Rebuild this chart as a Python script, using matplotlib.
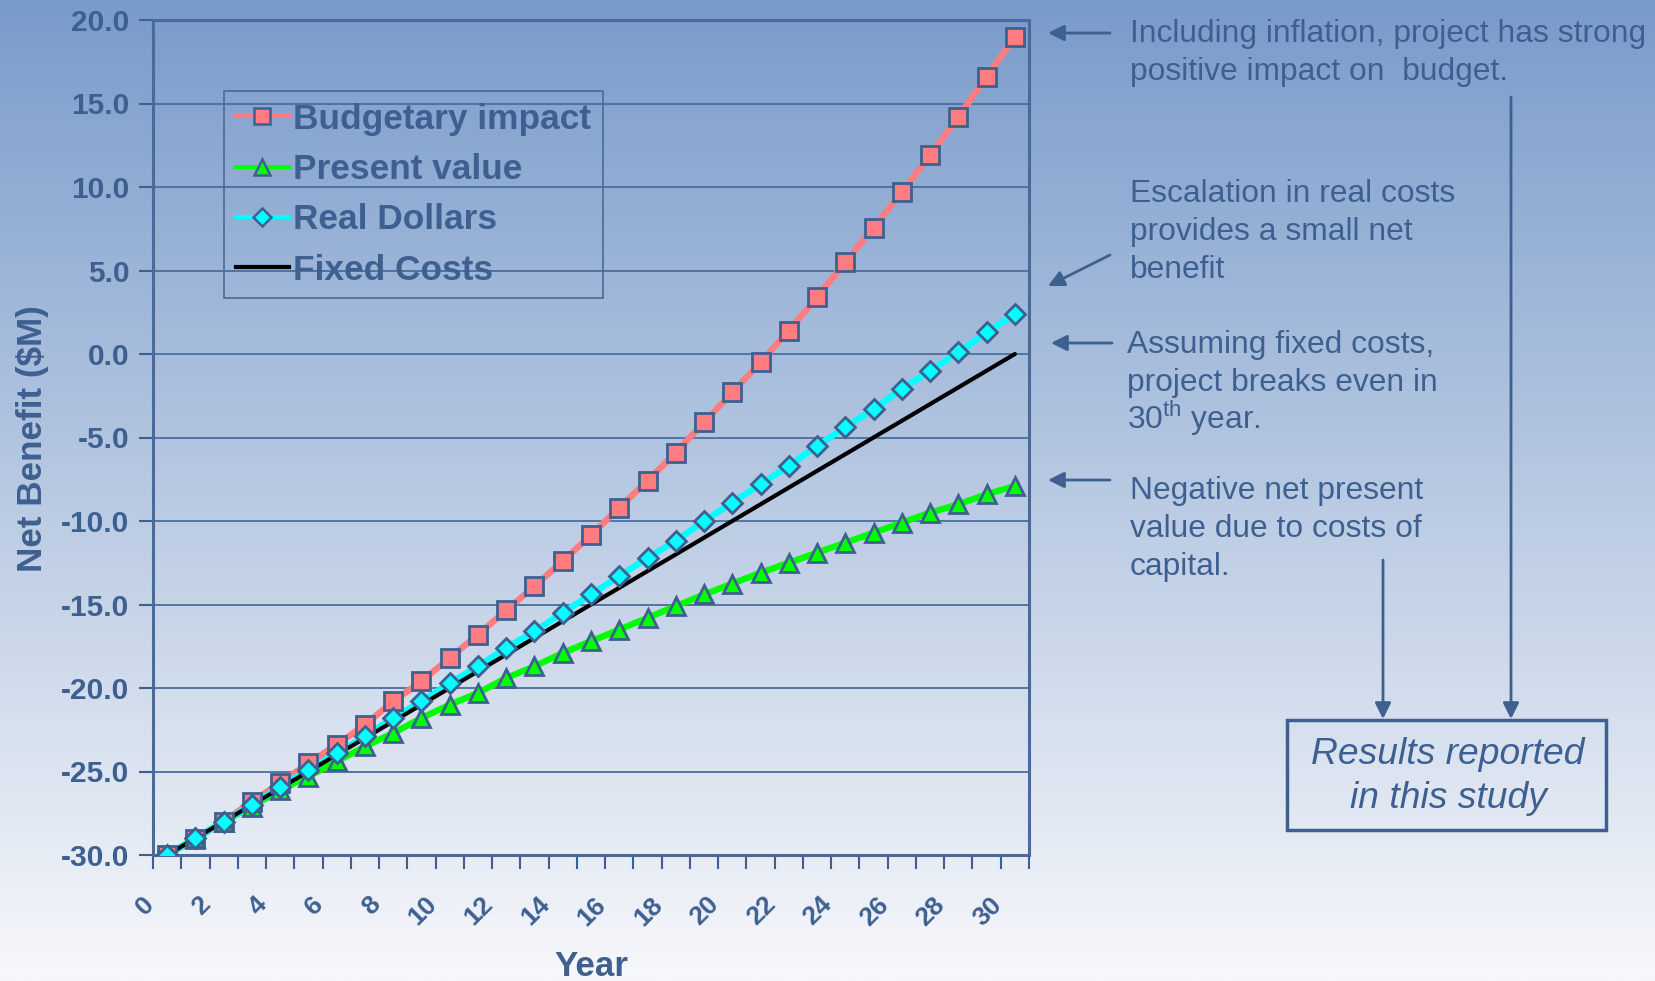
import matplotlib.pyplot as plt
import numpy as np
from matplotlib.lines import Line2D
from matplotlib.patches import Rectangle
from matplotlib.transforms import ScaledTranslation

# Net benefit ($M) by year for each costing scenario
years = list(range(31))
budgetary = [-30.0, -29.05, -28.0, -26.8, -25.7, -24.5, -23.4, -22.2, -20.8, -19.6,
             -18.2, -16.8, -15.35, -13.9, -12.4, -10.85, -9.2, -7.6, -5.9, -4.1,
             -2.3, -0.5, 1.4, 3.4, 5.5, 7.55, 9.7, 11.9, 14.2, 16.6, 19.0]
present_value = [-30.0, -29.0, -28.0, -27.1, -26.1, -25.3, -24.4, -23.5, -22.7, -21.8,
                 -21.0, -20.3, -19.4, -18.7, -17.9, -17.2, -16.5, -15.8, -15.1, -14.4,
                 -13.75, -13.1, -12.5, -11.9, -11.3, -10.7, -10.1, -9.5, -9.0, -8.4, -7.9]
real_dollars = [-30.0, -29.0, -28.0, -27.0, -25.9, -24.9, -23.9, -22.9, -21.8, -20.8,
                -19.7, -18.7, -17.6, -16.6, -15.5, -14.4, -13.3, -12.2, -11.2, -10.0,
                -8.9, -7.8, -6.7, -5.5, -4.4, -3.3, -2.1, -1.0, 0.1, 1.3, 2.4]
fixed_costs = [-30, -29, -28, -27, -26, -25, -24, -23, -22, -21, -20, -19, -18, -17, -16,
               -15, -14, -13, -12, -11, -10, -9, -8, -7, -6, -5, -4, -3, -2, -1, 0]
series_names = ["Budgetary impact", "Present value", "Real Dollars", "Fixed Costs"]

TEXT = "#3E6091"
RED, GREEN, CYAN = "#FF7C80", "#00FF00", "#00FFFF"
W, H = 1655, 981

plt.rcParams["font.family"] = ["Liberation Sans", "DejaVu Sans"]
plt.rcParams["mathtext.fontset"] = "custom"
plt.rcParams["mathtext.rm"] = "Liberation Sans"

fig = plt.figure(figsize=(W / 100, H / 100), dpi=100)

# vertical blue-to-white background
bg = fig.add_axes([0, 0, 1, 1], zorder=-10)
top = np.array([121, 155, 202]) / 255
bottom = np.array([247, 248, 251]) / 255
t = np.linspace(0, 1, 400)[:, None]
grad = top + (bottom - top) * t
bg.imshow(grad[:, None, :], aspect="auto", extent=[0, 1, 0, 1])
bg.axis("off")

ax = fig.add_axes([153 / W, 1 - 855 / H, 876 / W, 835 / H])
ax.set_facecolor("none")

LW = 4.6
ax.plot(years, budgetary, color=RED, lw=LW, zorder=2, solid_capstyle="round")
ax.plot(years, present_value, color=GREEN, lw=LW, zorder=2.1, solid_capstyle="round")
ax.plot(years, real_dollars, color=CYAN, lw=LW, zorder=2.2, solid_capstyle="round")
ax.plot(years, fixed_costs, color="black", lw=3, zorder=2.3, solid_capstyle="round")
ax.plot(years, budgetary, ls="none", marker="s", ms=13, mfc=RED, mec=TEXT, mew=2, zorder=3)
ax.plot(years, present_value, ls="none", marker="^", ms=13, mfc=GREEN, mec=TEXT, mew=2, zorder=3.1)
ax.plot(years, real_dollars, ls="none", marker="D", ms=10, mfc=CYAN, mec=TEXT, mew=2, zorder=3.2)

ax.set_xlim(-0.5, 30.5)
ax.set_ylim(-30, 20)
ax.set_yticks(np.arange(-30, 20.1, 5))
ax.set_yticklabels([f"{v:.1f}" for v in np.arange(-30, 20.1, 5)])
ax.yaxis.grid(True, color="#4B6E9E", lw=1.3)
ax.set_axisbelow(True)
ax.tick_params(axis="y", direction="out", length=10, width=1.5, color=TEXT,
               labelsize=21.5, labelcolor=TEXT, pad=7)
for lab in ax.get_yticklabels():
    lab.set_fontweight("bold")

ax.set_xticks(range(0, 31, 2))
ax.set_xticklabels([str(v) for v in range(0, 31, 2)], rotation=45, ha="right",
                   va="center", rotation_mode="anchor", fontsize=19,
                   fontweight="bold", color=TEXT)
ax.set_xticks(np.arange(-0.5, 31, 1), minor=True)
ax.tick_params(axis="x", which="major", length=0, pad=33)
ax.tick_params(axis="x", which="minor", direction="out", length=10, width=1.5, color=TEXT)
shift = ScaledTranslation(-0.17, 0, fig.dpi_scale_trans)
for lab in ax.get_xticklabels():
    lab.set_transform(lab.get_transform() + shift)

for s in ax.spines.values():
    s.set_color("#4A6A9A")
    s.set_linewidth(2.2)

ax.set_ylabel("Net Benefit ($M)", fontsize=25.2, fontweight="bold", color=TEXT,
              va="center")
ax.yaxis.set_label_coords(32.5 / W, 1 - 439 / H, transform=fig.transFigure)
ax.set_xlabel("Year", fontsize=25.2, fontweight="bold", color=TEXT, va="center")
ax.xaxis.set_label_coords(591 / W, 1 - 967 / H, transform=fig.transFigure)

handles = [
    Line2D([], [], color=RED, lw=3, marker="s", ms=11.5, mfc=RED, mec=TEXT, mew=1.8),
    Line2D([], [], color=GREEN, lw=3, marker="^", ms=11.5, mfc=GREEN, mec=TEXT, mew=1.8),
    Line2D([], [], color=CYAN, lw=3, marker="D", ms=9, mfc=CYAN, mec=TEXT, mew=1.8),
    Line2D([], [], color="black", lw=3),
]
leg = ax.legend(handles, series_names, loc="upper left",
                bbox_to_anchor=(224 / W, 1 - 91 / H), bbox_transform=fig.transFigure,
                borderaxespad=0, prop={"size": 25.4, "weight": "bold"}, labelcolor=TEXT,
                handlelength=1.5, handletextpad=0.14, labelspacing=0.49,
                borderpad=0.33, fancybox=False, facecolor="none", numpoints=1)
leg.get_frame().set_edgecolor("#4A6A9A")
leg.get_frame().set_linewidth(1.2)
leg.get_frame().set_alpha(None)

# commentary on the right, drawn in pixel coordinates
ov = fig.add_axes([0, 0, 1, 1], zorder=5)
ov.set_xlim(0, W)
ov.set_ylim(H, 0)
ov.axis("off")

notes = [
    (1130, [42, 80], ["Including inflation, project has strong", "positive impact on  budget."]),
    (1130, [202, 240, 278], ["Escalation in real costs", "provides a small net", "benefit"]),
    (1127, [353, 391, 429], ["Assuming fixed costs,", "project breaks even in", r"30$^{\mathrm{th}}$ year."]),
    (1130, [499, 537, 575], ["Negative net present", "value due to costs of", "capital."]),
]
for x, ys, lines in notes:
    for y, line in zip(ys, lines):
        ov.text(x, y, line, fontsize=22.9, color=TEXT, va="baseline", ha="left")

arrows = [
    ((1110, 33), (1048, 33)),
    ((1110, 255), (1048, 286)),
    ((1112, 343), (1051, 343)),
    ((1110, 480), (1048, 480)),
    ((1511, 97), (1511, 719)),
    ((1383, 560), (1383, 719)),
]
for (x0, y0), (x1, y1) in arrows:
    ov.annotate("", xy=(x1, y1), xytext=(x0, y0),
                arrowprops=dict(arrowstyle="-|>", color=TEXT, lw=2, mutation_scale=24,
                                shrinkA=0, shrinkB=0))

ov.add_patch(Rectangle((1287, 720), 319, 110, fill=False, edgecolor=TEXT, lw=2.5))
ov.text(1448, 754, "Results reported", fontsize=26.8, style="italic", color=TEXT,
        ha="center", va="center")
ov.text(1448, 798, "in this study", fontsize=26.8, style="italic", color=TEXT,
        ha="center", va="center")

fig.savefig("out.png", dpi=100)
